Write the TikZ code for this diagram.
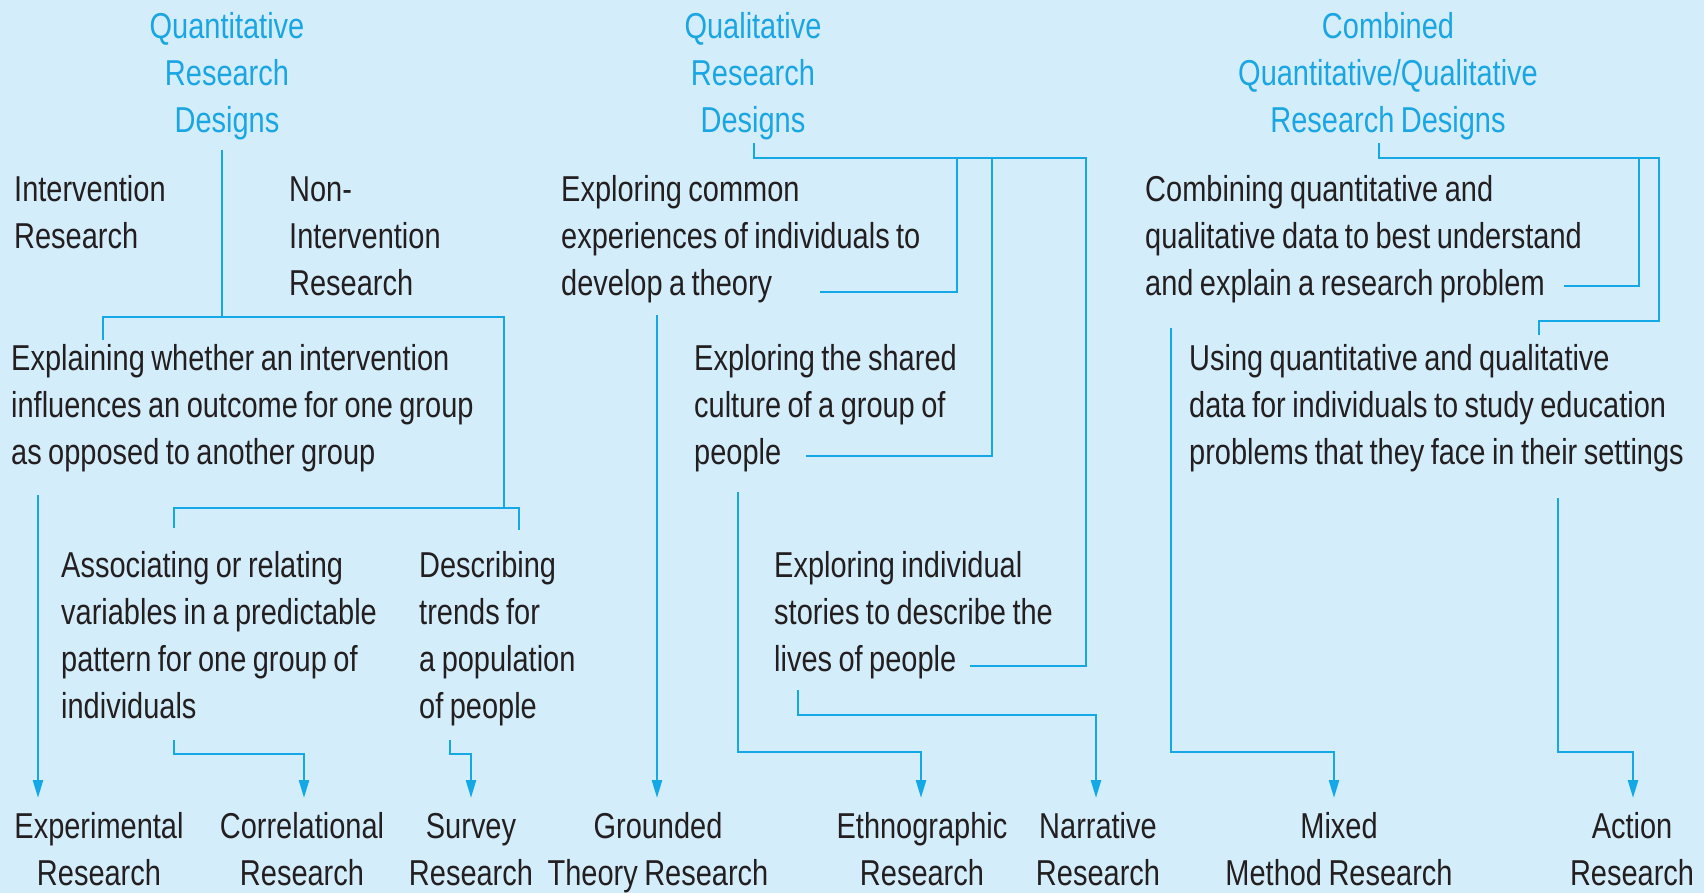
\documentclass[tikz,border=0pt]{standalone}
\usepackage{fontspec}
\setmainfont{Liberation Sans}[FakeStretch=0.805,WordSpace=0.8]
\usetikzlibrary{arrows.meta,calc}
\definecolor{bgblue}{HTML}{D4EDFA}
\definecolor{linkblue}{HTML}{14A9E6}
\definecolor{headblue}{HTML}{1AA6E3}
\definecolor{ink}{HTML}{231F20}

\begin{document}
\begin{tikzpicture}[x=1pt,y=-1pt,
  bodyfont/.style={font=\fontsize{36}{47}\selectfont},
  blocktext/.style={bodyfont, inner sep=0pt, anchor=base west, text width=700pt, align=flush left, text=ink},
  headtext/.style={bodyfont, inner sep=0pt, anchor=base, text width=400pt, align=flush center, text=headblue},
  leaftext/.style={bodyfont, inner sep=0pt, anchor=base, text width=300pt, align=flush center, text=ink},
  link/.style={draw=linkblue, line width=2.5pt},
  arrowlink/.style={link, -{Triangle[width=10pt,length=18pt]}}]

% canvas
\fill[bgblue] (0,0) rectangle (1704,893);
\useasboundingbox (0,0) rectangle (1704,893);

% ---- headings ----
\node[headtext] (qnh) at (227,39) {Quantitative\\Research\\Designs};
\node[headtext] (qlh) at (753,39) {Qualitative\\Research\\Designs};
\node[headtext] (cmh) at (1388,39) {Combined\\Quantitative/Qualitative\\Research Designs};

% ---- quantitative branch ----
\node[blocktext] (intv) at (14,202) {Intervention\\Research};
\node[blocktext] (nonint) at (289,202) {Non-\\Intervention\\Research};
\node[blocktext] (expl) at (11,370) {Explaining whether an intervention\\influences an outcome for one group\\as opposed to another group};
\node[blocktext] (assoc) at (61,577) {Associating or relating\\variables in a predictable\\pattern for one group of\\individuals};
\node[blocktext] (descr) at (419,577) {Describing\\trends for\\a population\\of people};

% ---- qualitative branch ----
\node[blocktext] (common) at (561,202) {Exploring common\\experiences of individuals to\\develop a theory};
\node[blocktext] (shared) at (694,370) {Exploring the shared\\culture of a group of\\people};
\node[blocktext] (stories) at (774,577) {Exploring individual\\stories to describe the\\lives of people};

% ---- combined branch ----
\node[blocktext] (combining) at (1145,202) {Combining quantitative and\\qualitative data to best understand\\and explain a research problem};
\node[blocktext] (using) at (1189,370) {Using quantitative and qualitative\\data for individuals to study education\\problems that they face in their settings};

% ---- designs ----
\node[leaftext] (exper) at (99,838) {Experimental\\Research};
\node[leaftext] (correl) at (302,838) {Correlational\\Research};
\node[leaftext] (survey) at (471,838) {Survey\\Research};
\node[leaftext] (grounded) at (658,838) {Grounded\\Theory Research};
\node[leaftext] (ethno) at (922,838) {Ethnographic\\Research};
\node[leaftext] (narr) at (1098,838) {Narrative\\Research};
\node[leaftext] (mixed) at (1339,838) {Mixed\\Method Research};
\node[leaftext] (action) at (1632,838) {Action\\Research};

% ---- connector end points ----
\coordinate (qnStem) at (222,150);
\coordinate (qnFork) at (222,317);
\coordinate (intvDrop) at (103,340);
\coordinate (nonCorner) at (504,317);
\coordinate (nonFork) at (504,508);
\coordinate (assocDrop) at (174,528);
\coordinate (descrCorner) at (519,508);
\coordinate (descrDrop) at (519,530);
\coordinate (explOut) at (38,495);
\coordinate (assocOut) at (174,740);
\coordinate (descrOut) at (450,740);

\coordinate (qlStem) at (754,143);
\coordinate (qlEnd) at (1086,158);
\coordinate (commonTop) at (957,158);
\coordinate (commonIn) at (820,292);
\coordinate (sharedTop) at (992,158);
\coordinate (sharedIn) at (806,456);
\coordinate (storiesIn) at (970,666);
\coordinate (commonOut) at (657,315);
\coordinate (sharedOut) at (738,492);
\coordinate (storiesOut) at (798,690);

\coordinate (cmStem) at (1379,143);
\coordinate (cmEnd) at (1659,158);
\coordinate (combTop) at (1639,158);
\coordinate (combIn) at (1564,286);
\coordinate (usingBend) at (1659,321);
\coordinate (usingIn) at (1539,335);
\coordinate (combOut) at (1171,328);
\coordinate (usingOut) at (1558,498);

% arrow tips
\coordinate (experTip) at (38,798);
\coordinate (correlTip) at (304,798);
\coordinate (surveyTip) at (471,798);
\coordinate (groundedTip) at (657,798);
\coordinate (ethnoTip) at (921,798);
\coordinate (narrTip) at (1096,798);
\coordinate (mixedTip) at (1334,798);
\coordinate (actionTip) at (1633,798);

% ---- quantitative tree ----
\draw[link] (qnStem) -- (qnFork);
\draw[link] (intvDrop) |- (nonCorner) -- (nonFork);
\draw[link] (assocDrop) |- (descrCorner) -- (descrDrop);
\draw[arrowlink] (explOut) -- (experTip);
\draw[arrowlink] (assocOut) |- ($(correlTip)+(0,-44)$) -- (correlTip);
\draw[arrowlink] (descrOut) |- ($(surveyTip)+(0,-44)$) -- (surveyTip);

% ---- qualitative tree ----
\draw[link] (qlStem) |- (qlEnd) |- (storiesIn);
\draw[link] (commonTop) |- (commonIn);
\draw[link] (sharedTop) |- (sharedIn);
\draw[arrowlink] (commonOut) -- (groundedTip);
\draw[arrowlink] (sharedOut) |- ($(ethnoTip)+(0,-46)$) -- (ethnoTip);
\draw[arrowlink] (storiesOut) |- ($(narrTip)+(0,-83)$) -- (narrTip);

% ---- combined tree ----
\draw[link] (cmStem) |- (cmEnd) -- (usingBend) -| (usingIn);
\draw[link] (combTop) |- (combIn);
\draw[arrowlink] (combOut) |- ($(mixedTip)+(0,-46)$) -- (mixedTip);
\draw[arrowlink] (usingOut) |- ($(actionTip)+(0,-46)$) -- (actionTip);

\end{tikzpicture}
\end{document}
